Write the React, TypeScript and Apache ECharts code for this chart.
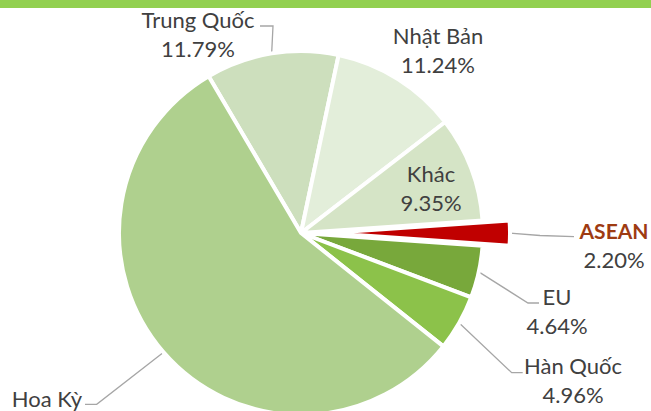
import React, { useEffect, useRef } from "react";
import * as echarts from "echarts";

// ---- data ----
const categories = ["Trung Quốc", "Nhật Bản", "Khác", "ASEAN", "EU", "Hàn Quốc", "Hoa Kỳ"];
const shares = [11.79, 11.24, 9.35, 2.2, 4.64, 4.96, 55.82];

// ---- styles ----
const sliceColors = ["#CDDFBD", "#E3EEDA", "#D5E4C6", "#C00000", "#78A83B", "#8CC24A", "#AFD08E"];
const highlightIndex = 3; // exploded slice
const showLeader = [true, false, false, true, true, true, true];
const showValue = [true, true, true, true, true, true, false];

// label centres and leader elbows/ends (annotation placement, in px)
const labelCenters: [number, number][] = [
  [198, 33.5],
  [438, 49.5],
  [431, 187.5],
  [614, 245],
  [557, 310.5],
  [573, 379.5],
  [47, 398],
];
const leaderElbows: [number, number][] = [
  [273, 26],
  [0, 0],
  [0, 0],
  [540, 235.5],
  [528, 303],
  [511.7, 372.7],
  [96.7, 404.3],
];
const leaderEnds: [number, number][] = [
  [260, 26],
  [0, 0],
  [0, 0],
  [574, 236.7],
  [539, 303],
  [522.7, 372.7],
  [85, 404.3],
];

const FONT = "Lato, 'Open Sans', sans-serif";
const CENTER: [number, number] = [301, 233];
const EXPLODE = 27;
const RADIUS = 182;
const START = 120.5;

export default function App() {
  const ref = useRef<HTMLDivElement>(null);

  useEffect(() => {
    if (!ref.current) return;
    const chart = echarts.init(ref.current, undefined, { renderer: "svg" });

    const textStyle = { fontFamily: FONT, fontSize: 22, color: "#404040", lineHeight: 29 };

    const label = {
      show: true,
      position: "outside",
      formatter: (p: any) => {
        const nameStyle = p.dataIndex === highlightIndex ? "na" : "n";
        const first = `{${nameStyle}|${p.name}}`;
        return showValue[p.dataIndex]
          ? `${first}\n{v|${Number(p.value).toFixed(2)}%}`
          : first;
      },
      rich: {
        n: { ...textStyle },
        v: { ...textStyle },
        na: { ...textStyle, fontSize: 21, fontWeight: "bold", color: "#9E3B12" },
      },
    };

    const labelLayout = (params: any) => {
      const i = params.dataIndex;
      const [x, y] = labelCenters[i];
      const out: any = { x, y, align: "center", verticalAlign: "middle" };
      if (showLeader[i] && params.labelLinePoints) {
        const p0 = params.labelLinePoints[0];
        out.labelLinePoints = [[p0[0], p0[1]], leaderElbows[i], leaderEnds[i]];
      }
      return out;
    };

    const isMain = (i: number) => i !== highlightIndex;

    // main pie: every slice except the exploded one
    const mainData = categories.map((name, i) => ({
      name,
      value: shares[i],
      itemStyle: isMain(i)
        ? { color: sliceColors[i], borderColor: "#ffffff", borderWidth: 4 }
        : { color: "transparent", borderWidth: 0 },
      label: { show: isMain(i) },
      labelLine: { show: isMain(i) && showLeader[i] },
    }));

    // exploded pie: same angles, centre shifted along the slice's mid angle
    const total = shares.reduce((a, b) => a + b, 0);
    const before = shares.slice(0, highlightIndex).reduce((a, b) => a + b, 0);
    const midDeg = START - ((before + shares[highlightIndex] / 2) / total) * 360;
    const midRad = (midDeg * Math.PI) / 180;
    const explodedCenter = [
      CENTER[0] + EXPLODE * Math.cos(midRad),
      CENTER[1] - EXPLODE * Math.sin(midRad),
    ];
    const explodedData = categories.map((name, i) => ({
      name,
      value: shares[i],
      itemStyle: !isMain(i)
        ? { color: sliceColors[i], borderColor: "#ffffff", borderWidth: 4 }
        : { color: "transparent", borderWidth: 0 },
      label: { show: !isMain(i) },
      labelLine: { show: !isMain(i) && showLeader[i] },
    }));

    const common = {
      type: "pie",
      radius: RADIUS,
      startAngle: START,
      clockwise: true,
      avoidLabelOverlap: false,
      silent: true,
      emphasis: { disabled: true },
      label,
      labelLine: { show: true, lineStyle: { color: "#A6A6A6", width: 1.3 } },
      labelLayout,
    };

    chart.setOption({
      animation: false,
      backgroundColor: "#ffffff",
      graphic: [
        {
          type: "rect",
          left: 0,
          top: 0,
          shape: { width: 651, height: 8 },
          style: { fill: "#92D050" },
          silent: true,
        },
      ],
      series: [
        { ...common, center: CENTER, data: mainData },
        { ...common, center: explodedCenter, data: explodedData },
      ],
    });

    return () => chart.dispose();
  }, []);

  return (
    <div
      ref={ref}
      style={{ position: "fixed", left: 0, top: 0, width: 651, height: 411, background: "#fff" }}
    />
  );
}
